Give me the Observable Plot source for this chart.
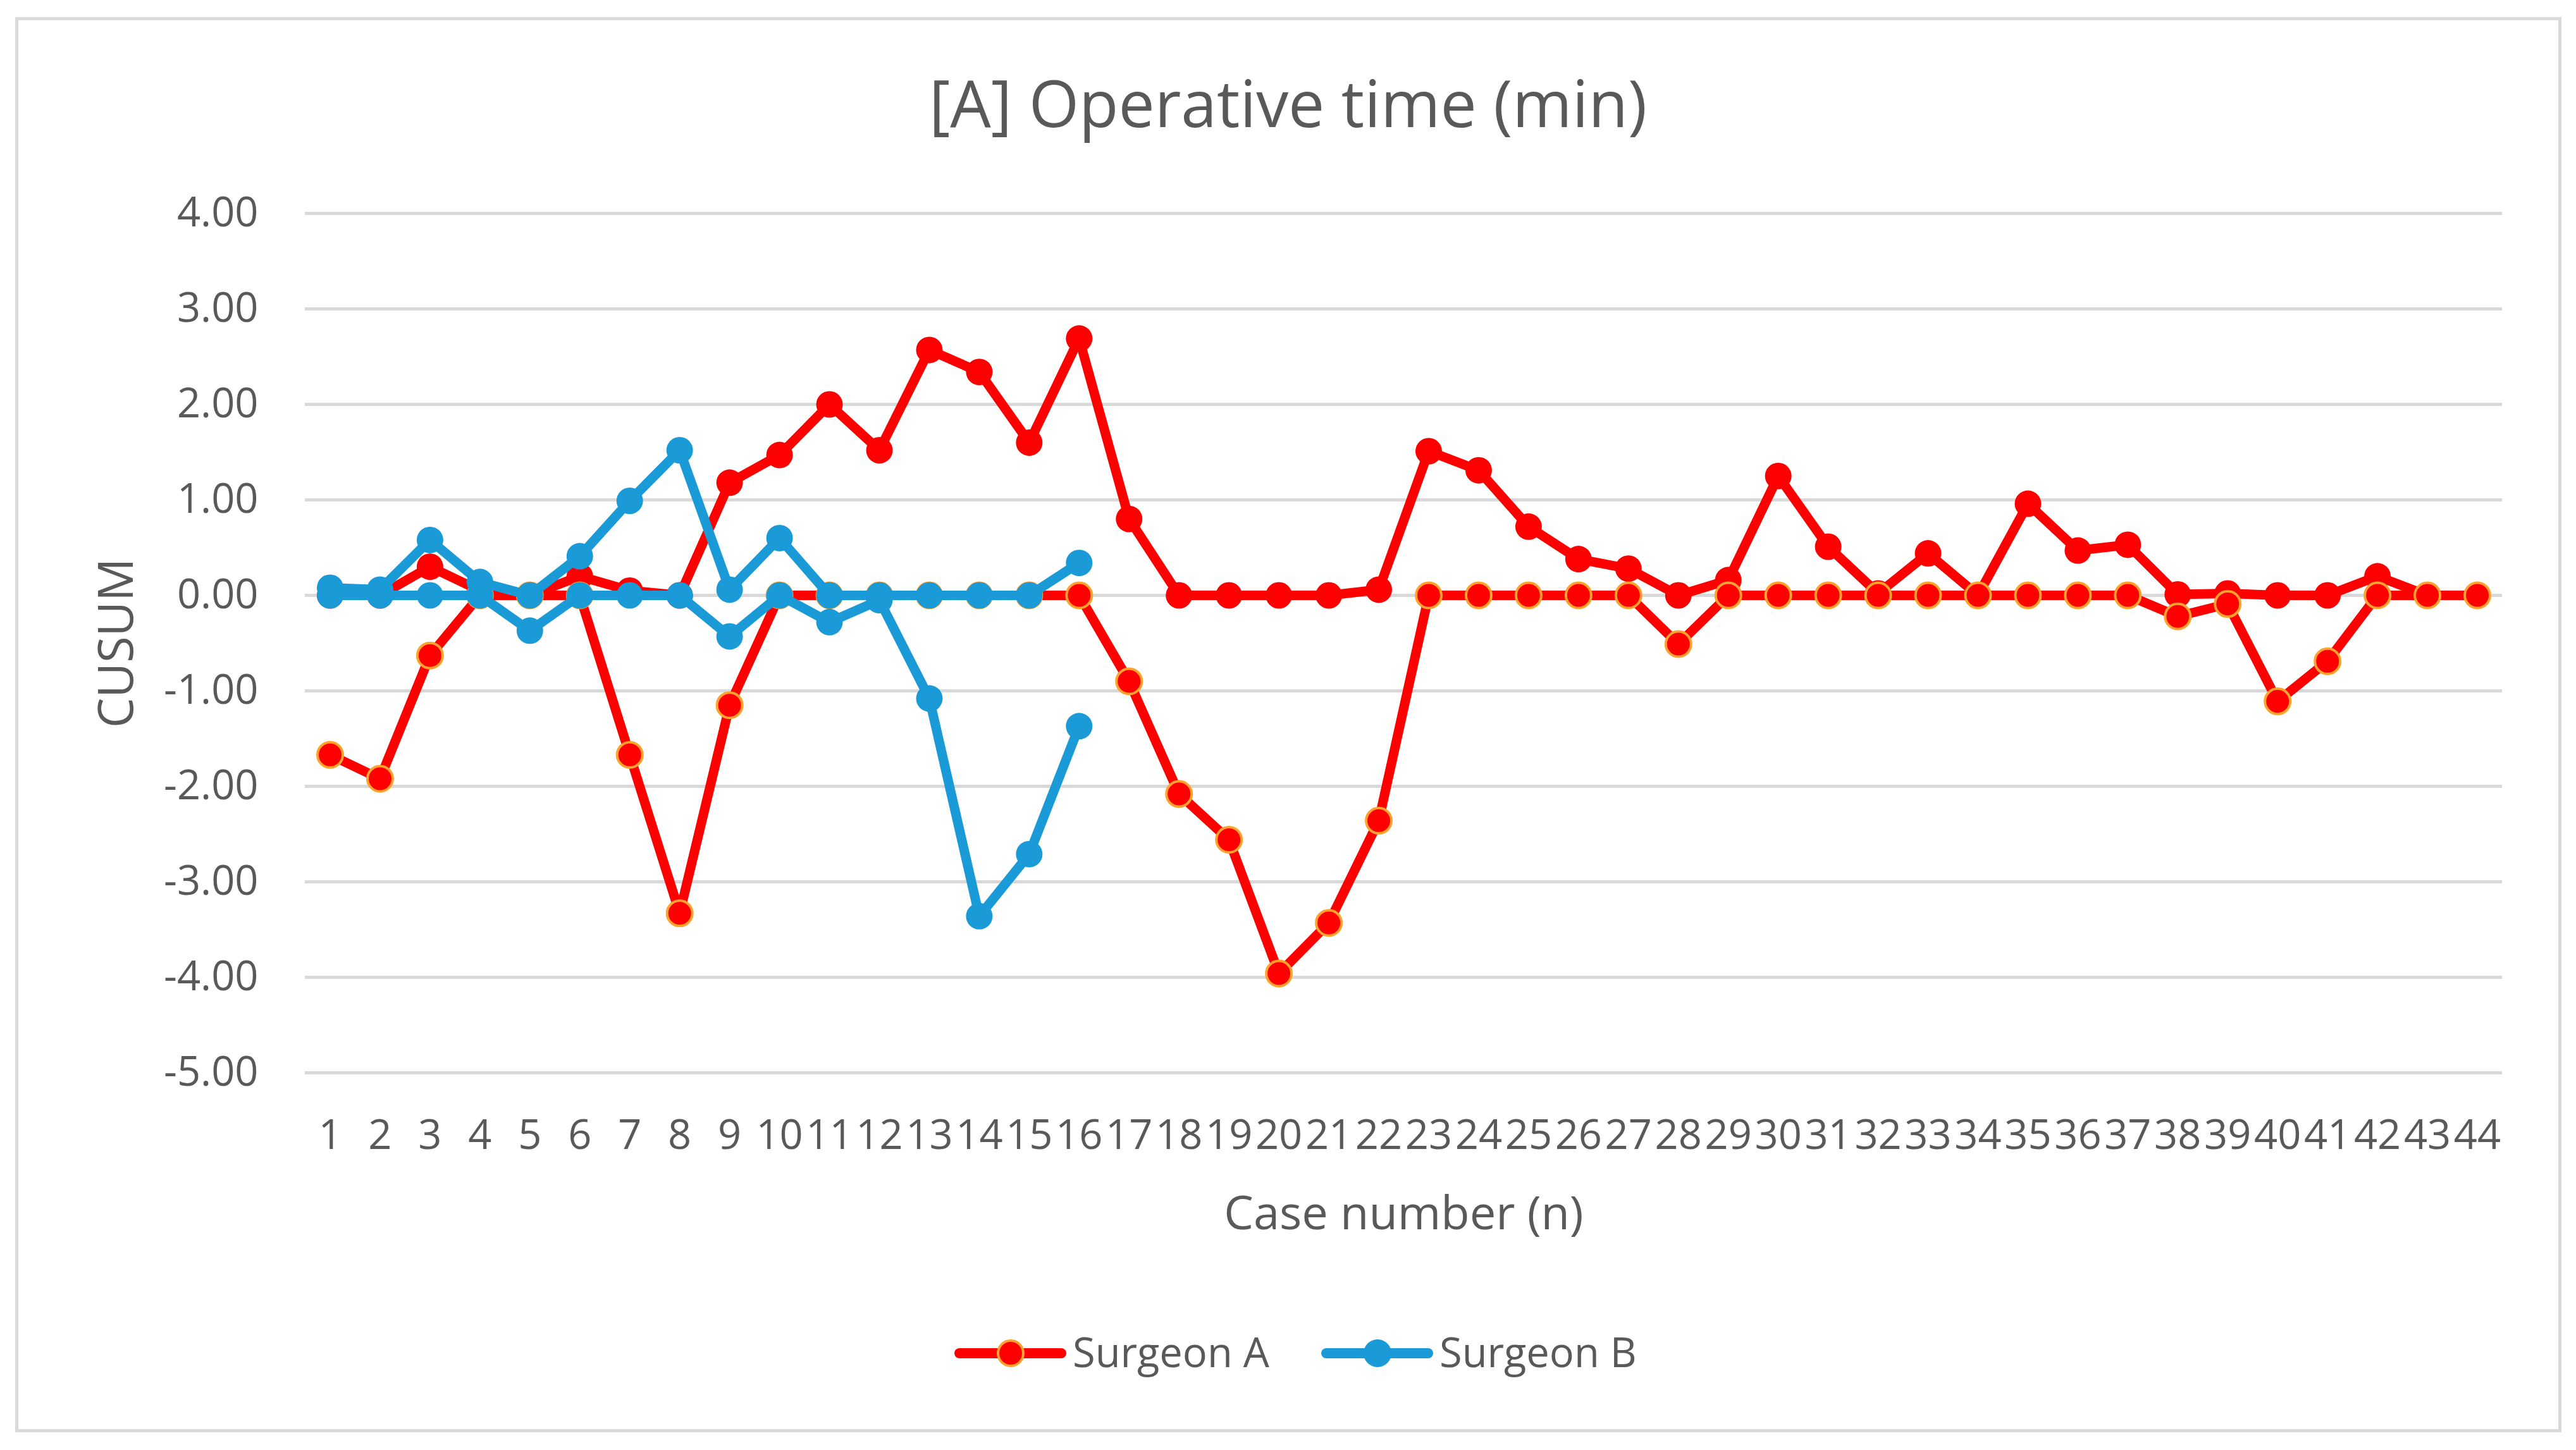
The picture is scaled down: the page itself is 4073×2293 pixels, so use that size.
<!DOCTYPE html>
<html>
<head>
<meta charset="utf-8">
<script src="https://cdn.jsdelivr.net/npm/d3@7"></script>
<script src="https://cdn.jsdelivr.net/npm/@observablehq/plot@0.6"></script>
<style>
  html, body { margin: 0; padding: 0; background: #fff; }
  body { width: 4073px; height: 2293px; position: relative; overflow: hidden; font-family: "Open Sans", sans-serif; color: #595959; }
  #frame { position: absolute; left: 24px; top: 27px; width: 4026px; height: 2238px; border: 5px solid #D9D9D9; box-sizing: border-box; }
  #title { position: absolute; left: 0; width: 4073px; top: 111px; text-align: center; font-size: 102px; line-height: 1; color: #595959; white-space: nowrap; }
  #chart { position: absolute; left: 0; top: 250px; }
  .lg-line { position: absolute; height: 16px; border-radius: 8px; top: 2132px; }
  .lg-dot { position: absolute; width: 44px; height: 44px; border-radius: 50%; box-sizing: border-box; top: 2118px; }
  .lg-text { position: absolute; top: 2105px; font-size: 65px; line-height: 1; color: #595959; white-space: nowrap; }
</style>
</head>
<body>
<div id="frame"></div>
<div id="title">[A] Operative time (min)</div>
<div id="chart"></div>
<div id="legend"></div>
<script>
// Categories (case numbers) and y-axis ticks
const cases = [1,2,3,4,5,6,7,8,9,10,11,12,13,14,15,16,17,18,19,20,21,22,23,24,25,26,27,28,29,30,31,32,33,34,35,36,37,38,39,40,41,42,43,44];
const yTicks = [-5,-4,-3,-2,-1,0,1,2,3,4];

// Surgeon A: upper CUSUM (plain red markers)
const surgeonAUpper = [0,0,0.30,0.05,0,0.20,0.05,0,1.18,1.47,2.00,1.52,2.57,2.34,1.60,2.69,0.80,0,0,0,0,0.06,1.51,1.31,0.72,0.38,0.28,0,0.16,1.25,0.51,0.02,0.44,0,0.96,0.47,0.53,0.01,0.02,0,0,0.20,0,0];
// Surgeon A: lower CUSUM (red markers with orange outline)
const surgeonALower = [-1.67,-1.92,-0.63,0,0,0,-1.67,-3.33,-1.15,0,0,0,0,0,0,0,-0.90,-2.08,-2.56,-3.96,-3.43,-2.36,0,0,0,0,0,-0.51,0,0,0,0,0,0,0,0,0,-0.22,-0.09,-1.11,-0.69,0,0,0];
// Surgeon B: upper and lower CUSUM
const surgeonBUpper = [0.08,0.06,0.58,0.14,0,0.41,0.99,1.52,0.06,0.60,0,0,0,0,0,0.34];
const surgeonBLower = [0,0,0,0,-0.37,0,0,0,-0.43,0,-0.28,-0.05,-1.08,-3.36,-2.71,-1.37];

const series = ["Surgeon A", "Surgeon B"];
const RED = "#FF0000", ORANGE = "#FFA22E", BLUE = "#1A9AD6";

function lineAndDots(values, color, outline) {
  const opts = {x: (d, i) => cases[i], y: d => d};
  return [
    Plot.line(values, {...opts, stroke: color, strokeWidth: 15, strokeLinejoin: "round", strokeLinecap: "round"}),
    Plot.dot(values, {...opts, r: outline ? 20 : 21, fill: color, stroke: outline ? ORANGE : null, strokeWidth: outline ? 4 : 0})
  ];
}

const chart = Plot.plot({
  width: 4073,
  height: 1750,
  marginTop: 87,
  marginBottom: 304,
  marginLeft: 482,
  marginRight: 117,
  style: {fontFamily: "Open Sans, sans-serif", fontSize: "65px", color: "#595959", background: "transparent", overflow: "visible"},
  x: {type: "point", domain: cases, padding: 0.5, label: null, tickSize: 0, tickPadding: 74},
  y: {domain: [-5, 4], ticks: yTicks, tickFormat: d => d.toFixed(2), label: null, tickSize: 0, tickPadding: 74},
  marks: [
    Plot.ruleY(yTicks, {stroke: "#D9D9D9", strokeWidth: 5}),
    ...lineAndDots(surgeonAUpper, RED, false),
    ...lineAndDots(surgeonALower, RED, true),
    ...lineAndDots(surgeonBUpper, BLUE, false),
    ...lineAndDots(surgeonBLower, BLUE, false),
    Plot.text(["Case number (n)"], {text: d => d, frameAnchor: "bottom", textAnchor: "middle", lineAnchor: "bottom", dy: 247, fontSize: 74, fill: "#595959"}),
    Plot.text(["CUSUM"], {text: d => d, frameAnchor: "left", textAnchor: "middle", lineAnchor: "middle", rotate: -90, dx: -297, fontSize: 76, fill: "#595959"})
  ]
});
document.getElementById("chart").appendChild(chart);

// Legend (HTML)
const legend = document.getElementById("legend");
const items = [
  {name: series[0], color: RED, outline: ORANGE, x: 1509},
  {name: series[1], color: BLUE, outline: null, x: 2089}
];
for (const it of items) {
  const ln = document.createElement("div");
  ln.className = "lg-line";
  ln.style.left = it.x + "px";
  ln.style.width = "177px";
  ln.style.background = it.color;
  legend.appendChild(ln);
  const dt = document.createElement("div");
  dt.className = "lg-dot";
  dt.style.left = (it.x + 67) + "px";
  dt.style.background = it.color;
  if (it.outline) dt.style.border = "4px solid " + it.outline;
  legend.appendChild(dt);
  const tx = document.createElement("div");
  tx.className = "lg-text";
  tx.style.left = (it.x + 187) + "px";
  tx.textContent = it.name;
  legend.appendChild(tx);
}
</script>
</body>
</html>
